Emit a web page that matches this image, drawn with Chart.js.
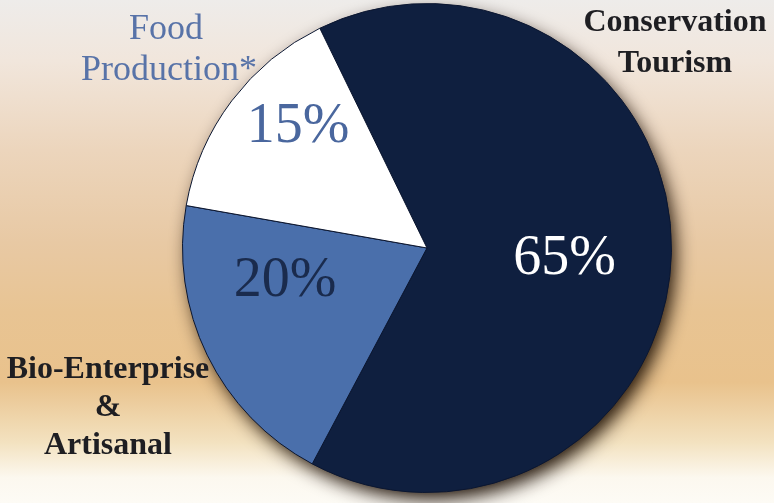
<!DOCTYPE html>
<html>
<head>
<meta charset="utf-8">
<script src="https://cdn.jsdelivr.net/npm/chart.js@4"></script>
<style>
  body { margin: 0; }
  #wrap {
    position: relative; width: 774px; height: 503px;
    background: linear-gradient(180deg, #eeecea 0%, #f1e6dc 12%, #ecd5bc 30%, #e8c9a4 48%, #e8c493 62%, #e9c28c 76%, #f3e2c0 88%, #fcf8ef 95%, #fdfbf5 100%);
  }
</style>
</head>
<body>
<div id="wrap"><canvas id="pie"></canvas></div>
<script>
// values as printed on the slices
var labels = ["Conservation Tourism", "Bio-Enterprise & Artisanal", "Food Production*"];
var shares = [65, 20, 15];
var pctText = ["65%", "20%", "15%"];

var sliceColors = ["#0f1f3f", "#4a6fab", "#ffffff"];
var serif = "'Liberation Serif', 'DejaVu Serif', serif";

// drop shadow under the whole pie
var pieShadow = {
  id: 'pieShadow',
  beforeDatasetsDraw: function (chart) {
    var arc = chart.getDatasetMeta(0).data[0];
    var ctx = chart.ctx;
    ctx.save();
    ctx.shadowColor = 'rgba(25,12,0,0.95)';
    ctx.shadowBlur = 18;
    ctx.shadowOffsetX = 5;
    ctx.shadowOffsetY = 8;
    ctx.fillStyle = '#0f1f3f';
    ctx.beginPath();
    ctx.arc(arc.x, arc.y, arc.outerRadius - 1, 0, Math.PI * 2);
    ctx.fill();
    ctx.restore();
  }
};

var pieText = {
  id: 'pieText',
  afterDatasetsDraw: function (chart) {
    var ctx = chart.ctx;
    var arc = chart.getDatasetMeta(0).data[0];
    var cx = arc.x, cy = arc.y, r = arc.outerRadius;
    ctx.save();
    ctx.textAlign = 'center';
    ctx.textBaseline = 'middle';
    // percentages inside slices
    var pctPos = [[0.563, 0.045], [-0.58, 0.135], [-0.527, -0.494]];
    var pctCol = ['#ffffff', '#1a2b4d', '#4a679e'];
    ctx.font = '56px ' + serif;
    for (var i = 0; i < pctText.length; i++) {
      ctx.fillStyle = pctCol[i];
      ctx.fillText(pctText[i], cx + pctPos[i][0] * r, cy + pctPos[i][1] * r);
    }
    // outer labels
    ctx.font = 'bold 32px ' + serif;
    ctx.fillStyle = '#1e1e22';
    ctx.fillText('Conservation', 675, 23);
    ctx.fillText('Tourism', 675, 64);
    ctx.fillText('Bio-Enterprise', 108, 370);
    ctx.fillText('&', 108, 408);
    ctx.fillText('Artisanal', 108, 446);
    ctx.font = '36px ' + serif;
    ctx.fillStyle = '#5873a8';
    ctx.fillText('Food', 166, 30);
    ctx.fillText('Production*', 169, 71);
    ctx.restore();
  }
};

new Chart(document.getElementById("pie"), {
  type: 'pie',
  data: {
    labels: labels,
    datasets: [{
      data: shares,
      backgroundColor: sliceColors,
      borderColor: '#0b1630',
      borderWidth: 1
    }]
  },
  options: {
    responsive: true,
    maintainAspectRatio: false,
    animation: false,
    rotation: -26,
    layout: { padding: { left: 182, right: 102, top: 3, bottom: 10 } },
    plugins: {
      legend: { display: false },
      tooltip: { enabled: false }
    }
  },
  plugins: [pieShadow, pieText]
});
</script>
</body>
</html>
